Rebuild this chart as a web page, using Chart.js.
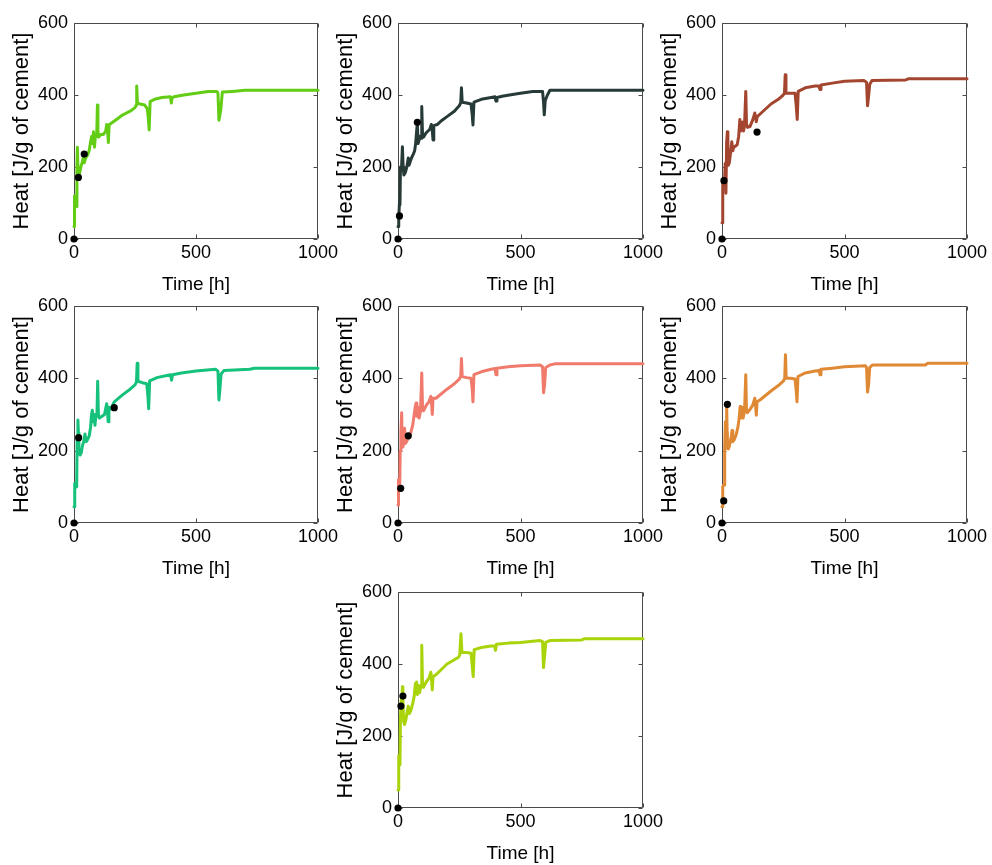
<!DOCTYPE html>
<html>
<head>
<meta charset="utf-8">
<script src="https://cdn.jsdelivr.net/npm/chart.js@4.4.1/dist/chart.umd.min.js"></script>
<style>
html,body{margin:0;padding:0;background:#fff;overflow:hidden;width:992px;height:865px;}
.panel{position:absolute;}
canvas{display:block;}
</style>
</head>
<body>
<div id="root"></div>
<script>
// ---------- tick labels ----------
const xTicks = [0, 500, 1000];
const yTicks = [0, 200, 400, 600];
const xTitle = 'Time [h]';
const yTitle = 'Heat [J/g of cement]';

// ---------- panel 1 ----------
const time1 = [0,2,5,8,10,12,14,17,20,25,30,35,38,42,48,55,62,68,72,76,80,84,88,93,96,98,101,110,120,130,134,137,141,144,150,170,200,230,250,255,257,260,270,290,300,304,308,312,330,360,395,399,402,410,450,500,550,585,590,594,598,602,608,650,700,1000];
const heat1 = [35,120,115,95,90,200,255,170,172,190,205,215,228,212,225,232,245,270,285,265,298,255,290,285,372,300,283,290,290,300,318,305,268,318,320,330,345,355,365,372,425,378,375,372,362,340,303,382,388,393,395,378,392,395,400,405,410,410,405,330,345,362,408,410,413,413];
const dotTime1 = [0,18,42];
const dotHeat1 = [0,171,236];

// ---------- panel 2 ----------
const time2 = [0,3,6,8,10,14,18,21,24,30,36,42,45,50,55,62,68,72,76,79,82,86,90,94,97,100,104,115,130,136,140,143,146,160,180,200,230,250,256,259,262,280,298,303,306,310,340,380,396,400,404,430,480,500,550,590,594,597,601,610,620,1000];
const heat2 = [35,60,100,95,200,190,256,200,178,185,200,225,205,215,225,235,245,265,300,322,265,275,285,280,368,290,283,295,305,318,300,275,315,318,330,340,355,370,378,420,380,378,375,345,317,380,388,393,395,383,393,397,403,405,410,410,380,345,385,400,413,413];
const dotTime2 = [0,6,79];
const dotHeat2 = [0,64,324];

// ---------- panel 3 ----------
const time3 = [0,2,4,7,10,13,16,19,22,24,26,30,35,40,44,48,55,62,68,73,76,80,84,88,92,97,100,104,114,125,134,137,140,144,160,200,230,250,255,258,261,280,298,303,307,311,340,380,395,400,404,450,500,580,590,594,598,603,612,750,760,1000];
const heat3 = [45,100,165,160,150,210,127,270,298,230,205,212,240,270,245,255,258,262,285,332,300,320,325,300,315,410,320,310,312,330,350,338,326,340,350,375,388,400,405,456,405,405,405,370,332,410,420,425,425,415,428,433,438,440,435,370,395,430,440,442,445,445];
const dotTime3 = [0,8,143];
const dotHeat3 = [0,162,297];

// ---------- panel 4 ----------
const time4 = [0,3,8,11,13,16,18,20,25,30,35,40,45,50,55,62,68,72,75,78,82,86,90,94,97,100,104,115,125,134,137,140,143,150,165,200,230,250,256,259,262,280,298,303,306,310,340,380,396,400,404,440,500,580,590,594,598,603,615,720,740,1000];
const heat4 = [45,110,105,100,240,285,250,200,188,195,215,225,246,225,230,240,265,300,312,280,300,270,300,295,392,300,290,295,300,330,310,280,320,315,335,355,370,382,390,442,392,388,385,350,316,393,402,408,410,395,410,415,420,425,420,340,370,412,422,425,428,428];
const dotTime4 = [0,19,165];
const dotHeat4 = [0,236,319];

// ---------- panel 5 ----------
const time5 = [0,2,5,7,9,12,15,17,20,24,27,30,35,40,45,52,60,66,70,74,77,82,86,92,97,100,104,115,126,134,137,140,143,155,200,230,250,256,259,262,280,298,303,306,310,340,380,396,400,404,450,500,580,590,594,598,603,620,640,1000];
const heat5 = [50,120,110,100,200,250,305,220,210,225,262,220,225,232,240,250,270,300,320,332,295,320,290,310,415,320,310,325,335,350,330,300,345,345,370,385,398,405,455,405,402,400,370,335,410,418,425,427,410,428,432,435,437,432,360,380,430,437,440,440];
const dotTime5 = [0,11,42];
const dotHeat5 = [0,96,241];

// ---------- panel 6 ----------
const time6 = [0,3,6,9,11,14,17,19,21,22,26,30,35,38,41,44,50,58,65,70,74,77,82,86,92,97,100,104,115,125,134,137,140,143,155,200,230,250,256,259,262,280,298,303,306,310,340,380,396,400,404,450,500,585,590,594,598,603,615,830,840,1000];
const heat6 = [45,100,105,105,210,280,260,330,250,206,205,212,230,240,256,225,230,245,265,290,322,290,320,290,310,410,310,305,315,325,345,325,298,335,340,365,380,392,400,465,400,400,398,365,335,405,415,420,422,410,425,428,432,435,430,362,380,430,437,437,442,442];
const dotTime6 = [0,7,22];
const dotHeat6 = [0,61,328];

// ---------- panel 7 ----------
const time7 = [0,3,6,8,10,13,16,18,20,23,27,32,38,42,46,52,60,66,71,76,79,84,88,94,97,100,104,115,126,134,137,140,143,155,200,230,246,252,257,261,280,298,303,307,311,340,380,394,398,402,450,500,580,590,594,598,603,620,750,760,1000];
const heat7 = [50,145,125,120,250,300,290,337,300,240,232,245,270,283,262,270,290,310,345,350,315,340,320,340,452,345,335,350,360,377,355,328,365,370,400,412,418,425,484,432,432,430,395,365,440,446,450,450,438,455,458,460,465,462,390,420,460,465,467,470,470];
const dotTime7 = [12,20,0];
const dotHeat7 = [283,311,0];

// ---------- styling / layout (not data) ----------
const lineColors = ['#62cd14','#263a37','#a3452f','#16c17c','#f07a6c','#e08935','#a9d30a'];
const plotBoxes = [
  [74, 23, 318, 239],
  [398, 23, 643, 239],
  [722, 23, 967, 239],
  [74, 306, 318, 523],
  [398, 306, 643, 523],
  [722, 306, 967, 523],
  [398, 592, 643, 808]
];
const series = [
  [time1, heat1, dotTime1, dotHeat1],
  [time2, heat2, dotTime2, dotHeat2],
  [time3, heat3, dotTime3, dotHeat3],
  [time4, heat4, dotTime4, dotHeat4],
  [time5, heat5, dotTime5, dotHeat5],
  [time6, heat6, dotTime6, dotHeat6],
  [time7, heat7, dotTime7, dotHeat7]
];

const AXIS_W = 74, AXIS_H = 58, PAD_T = 23, PAD_R = 30;
const FONT = '"Liberation Sans", Arial, Helvetica, sans-serif';

const framePlugin = {
  id: 'frame',
  beforeDatasetsDraw(chart) {
    const {ctx, chartArea: a, scales} = chart;
    ctx.save();
    ctx.strokeStyle = '#4a4a4a';
    ctx.lineWidth = 1;
    const L = Math.round(a.left) + 0.5, R = Math.round(a.right) - 0.5;
    const T = Math.round(a.top) + 0.5, B = Math.round(a.bottom) - 0.5;
    ctx.beginPath();
    ctx.rect(L, T, R - L, B - T);
    const tl = 4;
    xTicks.forEach(v => {
      const px = Math.round(scales.x.getPixelForValue(v)) + 0.5;
      ctx.moveTo(px, B); ctx.lineTo(px, B - tl);
      ctx.moveTo(px, T); ctx.lineTo(px, T + tl);
    });
    yTicks.forEach(v => {
      const py = Math.round(scales.y.getPixelForValue(v)) + 0.5;
      ctx.moveTo(L, py); ctx.lineTo(L + tl, py);
      ctx.moveTo(R, py); ctx.lineTo(R - tl, py);
    });
    ctx.stroke();
    ctx.restore();
  }
};

const root = document.getElementById('root');
plotBoxes.forEach((box, i) => {
  const [L, T, R, B] = box;
  const w = (R - L) + AXIS_W + PAD_R;
  const h = (B - T) + PAD_T + AXIS_H;
  const div = document.createElement('div');
  div.className = 'panel';
  div.style.left = (L - AXIS_W) + 'px';
  div.style.top = (T - PAD_T) + 'px';
  const cv = document.createElement('canvas');
  cv.width = w; cv.height = h;
  cv.style.width = w + 'px'; cv.style.height = h + 'px';
  div.appendChild(cv);
  root.appendChild(div);

  const [tArr, hArr, dtArr, dhArr] = series[i];
  const lineData = tArr.map((t, k) => ({x: t, y: hArr[k]}));
  const dotData = dtArr.map((t, k) => ({x: t, y: dhArr[k]}));

  new Chart(cv, {
    type: 'scatter',
    data: {
      datasets: [
        {data: dotData, pointRadius: 3.6, pointBackgroundColor: '#000', pointBorderColor: '#000', pointBorderWidth: 0, showLine: false, clip: false},
        {data: lineData, showLine: true, pointRadius: 0, borderColor: lineColors[i], borderWidth: 3, borderJoinStyle: 'round', borderCapStyle: 'round', tension: 0, clip: false}
      ]
    },
    options: {
      responsive: false,
      animation: false,
      devicePixelRatio: 1,
      events: [],
      layout: {padding: {top: PAD_T, right: PAD_R, left: 0, bottom: 0}},
      plugins: {legend: {display: false}, tooltip: {enabled: false}},
      scales: {
        x: {
          type: 'linear', min: xTicks[0], max: xTicks[xTicks.length - 1],
          afterBuildTicks: s => { s.ticks = xTicks.map(v => ({value: v})); },
          afterFit: s => { s.height = AXIS_H; },
          grid: {display: false, drawTicks: false},
          border: {display: false},
          ticks: {color: '#000', padding: 3, font: {family: FONT, size: 18}, maxRotation: 0, autoSkip: false, callback: v => String(v)},
          title: {display: true, text: xTitle, color: '#000', font: {family: FONT, size: 19}, padding: {top: 0, bottom: 1}}
        },
        y: {
          type: 'linear', min: yTicks[0], max: yTicks[yTicks.length - 1],
          afterBuildTicks: s => { s.ticks = yTicks.map(v => ({value: v})); },
          afterFit: s => { s.width = AXIS_W; },
          grid: {display: false, drawTicks: false},
          border: {display: false},
          ticks: {color: '#000', padding: 6, font: {family: FONT, size: 18}, autoSkip: false, callback: v => String(v)},
          title: {display: true, text: yTitle, color: '#000', font: {family: FONT, size: 22}, padding: {top: 9, bottom: 0}}
        }
      }
    },
    plugins: [framePlugin]
  });
});
</script>
</body>
</html>
